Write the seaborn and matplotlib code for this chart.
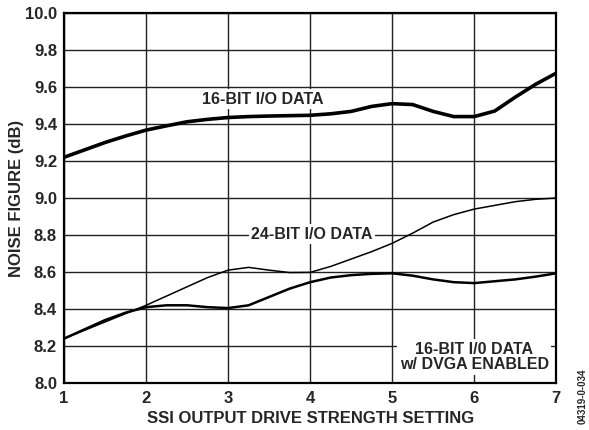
import numpy as np
import pandas as pd
import matplotlib
matplotlib.use("Agg")
import matplotlib.pyplot as plt
import seaborn as sns

# --- data ---
drive_setting = [1, 1.25, 1.5, 1.75, 2, 2.25, 2.5, 2.75, 3, 3.25, 3.5, 3.75, 4,
                 4.25, 4.5, 4.75, 5, 5.25, 5.5, 5.75, 6, 6.25, 6.5, 6.75, 7]
nf_16bit = [9.22, 9.26, 9.30, 9.335, 9.367, 9.39, 9.412, 9.425, 9.435, 9.44, 9.443, 9.445, 9.447,
            9.455, 9.468, 9.495, 9.51, 9.505, 9.468, 9.44, 9.44, 9.47, 9.545, 9.615, 9.675]
nf_24bit = [8.24, 8.285, 8.33, 8.375, 8.42, 8.47, 8.52, 8.57, 8.61, 8.625, 8.61, 8.597, 8.598,
            8.63, 8.67, 8.71, 8.755, 8.81, 8.87, 8.91, 8.94, 8.96, 8.98, 8.993, 9.0]
nf_dvga = [8.24, 8.29, 8.34, 8.38, 8.41, 8.42, 8.42, 8.41, 8.405, 8.42, 8.465, 8.51, 8.545,
           8.57, 8.583, 8.59, 8.593, 8.58, 8.56, 8.545, 8.54, 8.55, 8.56, 8.575, 8.593]

x_ticks = [1, 2, 3, 4, 5, 6, 7]
y_ticks = [8.0, 8.2, 8.4, 8.6, 8.8, 9.0, 9.2, 9.4, 9.6, 9.8, 10.0]

sns.set_style("white")
plt.rcParams['font.family'] = ['Liberation Sans', 'DejaVu Sans']
plt.rcParams['font.weight'] = 'bold'

fig = plt.figure(figsize=(5.89, 4.30), dpi=100)
ax = fig.add_axes([0.1087, 0.1093, 0.8357, 0.8605])

sns.lineplot(x=drive_setting, y=nf_16bit, ax=ax, color='black', linewidth=2.6)
sns.lineplot(x=drive_setting, y=nf_24bit, ax=ax, color='black', linewidth=1.1)
sns.lineplot(x=drive_setting, y=nf_dvga, ax=ax, color='black', linewidth=1.8)

ax.set_xlim(1, 7)
ax.set_ylim(8.0, 10.0)
ax.set_xticks(x_ticks)
ax.set_yticks(y_ticks)
ax.set_xticklabels([str(t) for t in x_ticks], fontsize=12, fontweight='bold')
ax.set_yticklabels([f"{t:.1f}" for t in y_ticks], fontsize=12, fontweight='bold')
ax.tick_params(axis='y', length=0, pad=5)
ax.tick_params(axis='x', length=0, pad=6)
ax.grid(True, color='#222222', linewidth=1.0)
for s in ax.spines.values():
    s.set_linewidth(1.6)
    s.set_color('black')
    s.set_visible(True)

ax.set_xlabel('SSI OUTPUT DRIVE STRENGTH SETTING', fontsize=12, fontweight='bold')
ax.set_ylabel('NOISE FIGURE (dB)', fontsize=12, fontweight='bold')
ax.xaxis.set_label_coords(0.5, -0.095)
ax.yaxis.set_label_coords(-0.097, 0.5)
ax.xaxis.label.set_va('center')
ax.yaxis.label.set_va('center')

box = dict(facecolor='white', edgecolor='none', pad=1.5)
ax.text(3.42, 9.535, '16-BIT I/O DATA', ha='center', va='center',
        fontsize=11.5, fontweight='bold', bbox=box, zorder=5)
ax.text(4.02, 8.805, '24-BIT I/O DATA', ha='center', va='center',
        fontsize=11.5, fontweight='bold', bbox=box, zorder=5)
ax.text(6.0, 8.14, '16-BIT I/0 DATA\nw/ DVGA ENABLED', ha='center', va='center',
        fontsize=11.5, fontweight='bold', linespacing=1.05,
        bbox=dict(facecolor='white', edgecolor='none', pad=2), zorder=5)

fig.text(0.99, 0.079, '04319-0-034', rotation=90, ha='center', va='center',
         fontsize=7, fontweight='bold')

fig.savefig('out.png', dpi=100)
